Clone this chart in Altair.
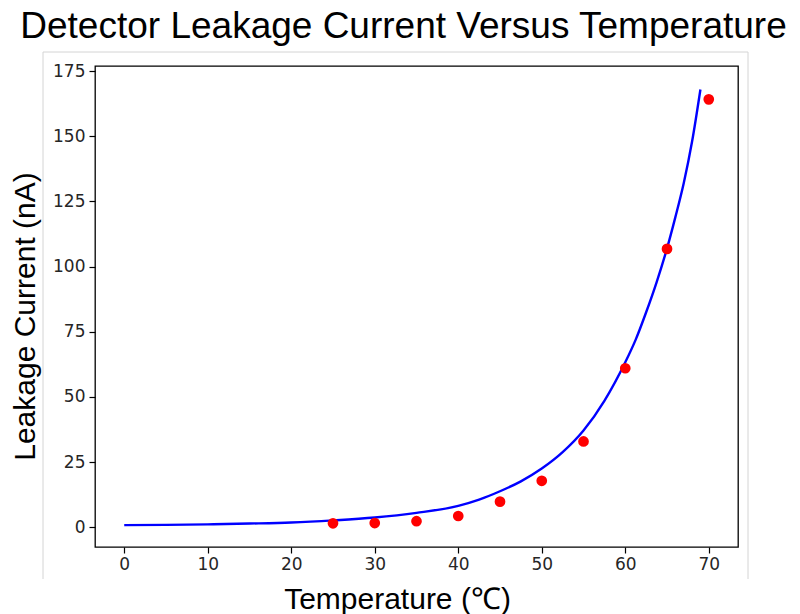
import altair as alt
import pandas as pd

# measured points
temp_pts = [25, 30, 35, 40, 45, 50, 55, 60, 65, 70]
current_pts = [1.5, 1.6, 2.3, 4.3, 9.8, 17.8, 32.9, 61.0, 106.8, 164.2]

# fitted curve
curve_x = [0, 5, 10, 15, 20, 25, 30, 35, 40, 42.5, 45, 47.5, 50, 52.5, 55, 57.5,
           60, 61.25, 62.5, 63.75, 65, 66, 67, 68, 69]
curve_y = [0.8, 0.9, 1.1, 1.4, 1.8, 2.6, 3.7, 5.5, 8.2, 10.6, 13.8, 17.6, 22.5, 28.8, 37.1, 48.5,
           63.3, 72.0, 82.5, 94.0, 107.0, 119.0, 132.0, 148.0, 168.0]

x_ticks = [0, 10, 20, 30, 40, 50, 60, 70]
y_ticks = [0, 25, 50, 75, 100, 125, 150, 175]

pts = pd.DataFrame({"t": temp_pts, "i": current_pts})
crv = pd.DataFrame({"t": curve_x, "i": curve_y})
dummy = pd.DataFrame({"k": [0]})

xs = alt.Scale(domain=[-3.5, 73.5], nice=False, zero=False)
ys = alt.Scale(domain=[-7.6, 177], nice=False, zero=False)

x_axis = alt.Axis(
    values=x_ticks, grid=False, title="Temperature (℃)",
    labelFont="DejaVu Sans", labelFontSize=17, labelColor="#262626",
    labelPadding=3, tickSize=6, tickColor="#000000", tickWidth=1.2, domain=False,
    titleFont="Liberation Sans", titleFontSize=30, titleFontWeight="normal",
    titleColor="#000000", titleX=302, titleY=61, titleBaseline="alphabetic",
    titleAnchor="middle", titleAlign="center",
)
y_axis = alt.Axis(
    values=y_ticks, grid=False, title="Leakage Current (nA)",
    labelFont="DejaVu Sans", labelFontSize=17, labelColor="#262626",
    labelPadding=4, tickSize=6, tickColor="#000000", tickWidth=1.2, domain=False,
    titleFont="Liberation Sans", titleFontSize=30, titleFontWeight="normal",
    titleColor="#000000", titleX=-61, titleY=250, titleBaseline="alphabetic",
    titleAngle=-90, titleAlign="center", titleAnchor="middle",
)

border_col = "#d4d4d4"
border_left = alt.Chart(dummy).mark_rule(color=border_col, strokeWidth=1).encode(
    x=alt.value(-52), y=alt.value(-14), y2=alt.value(513))
border_right = alt.Chart(dummy).mark_rule(color=border_col, strokeWidth=1).encode(
    x=alt.value(653), y=alt.value(-14), y2=alt.value(513))
border_top = alt.Chart(dummy).mark_rule(color=border_col, strokeWidth=1).encode(
    x=alt.value(-52), x2=alt.value(653), y=alt.value(-14))

line = alt.Chart(crv).mark_line(color="#0000ff", strokeWidth=2.4, interpolate="monotone").encode(
    x=alt.X("t:Q", scale=xs, axis=x_axis),
    y=alt.Y("i:Q", scale=ys, axis=y_axis),
)
dots = alt.Chart(pts).mark_circle(color="#ff0000", opacity=1, size=115).encode(
    x=alt.X("t:Q", scale=xs),
    y=alt.Y("i:Q", scale=ys),
)

chart = alt.layer(line, dots, border_left, border_right, border_top).properties(
    width=643, height=481,
    title=alt.TitleParams(
        "Detector Leakage Current Versus Temperature",
        font="Liberation Sans", fontSize=37, fontWeight="normal",
        color="#000000", anchor="middle", dx=-13, offset=6,
    ),
    autosize=alt.AutoSizeParams(type="none"),
    padding={"left": 95, "top": 66, "right": 62, "bottom": 67},
).configure(
    background="#ffffff",
    view=alt.ViewConfig(stroke="#000000", strokeWidth=1.3),
)

chart.save("out.html", embed_options={"renderer": "svg", "actions": False})
